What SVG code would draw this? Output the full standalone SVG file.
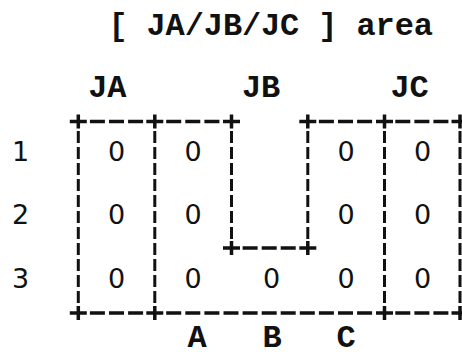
<svg xmlns="http://www.w3.org/2000/svg" width="462" height="356" viewBox="0 0 462 356">
<style>
.tw{font-family:"Liberation Mono","Courier New",monospace;font-size:32px;font-weight:bold;fill:#111;text-anchor:middle}
.sn{font-family:"DejaVu Sans","Liberation Sans",sans-serif;font-size:27px;fill:#111;text-anchor:middle}
.h{stroke:#111;stroke-width:3.5;fill:none}
.v{stroke:#111;stroke-width:3;fill:none;stroke-dasharray:12 4}
</style>
<rect width="462" height="356" fill="#fff"/>
<g id="title">
<text class="tw" x="118 137.1 156.1 175.2 194.3 213.4 232.5 251.6 270.7 289.7 308.8 327.9 347 366.1 385.2 404.3 423.4" y="35">[ JA/JB/JC ] area</text>
</g>
<g id="col-labels">
<text id="lbl-JA" class="tw" x="97.8 116.8" y="97">JA</text>
<text id="lbl-JB" class="tw" x="251.5 270.5" y="97">JB</text>
<text id="lbl-JC" class="tw" x="400 419" y="97">JC</text>
<text id="lbl-A" class="tw" x="197" y="347">A</text>
<text id="lbl-B" class="tw" x="272" y="347">B</text>
<text id="lbl-C" class="tw" x="346" y="347">C</text>
</g>
<g id="row-labels">
<text class="sn" x="20.5" y="161">1</text>
<text class="sn" x="20.5" y="223.5">2</text>
<text class="sn" x="20.5" y="288">3</text>
</g>
<g id="connectors">
<path class="h" d="M89.9 121.5h15M109 121.5h15M128.1 121.5h15M166.2 121.5h15M185.3 121.5h15M204.4 121.5h15M318.9 121.5h15M338 121.5h15M357.1 121.5h15M395.3 121.5h15M414.4 121.5h15M433.4 121.5h15"/>
<path class="h" d="M242.6 248h15M261.7 248h15M280.7 248h15"/>
<path class="h" d="M89.9 313h15M109 313h15M128.1 313h15M166.2 313h15M185.3 313h15M204.4 313h15M223.5 313h15M242.6 313h15M261.7 313h15M280.7 313h15M299.8 313h15M318.9 313h15M338 313h15M357.1 313h15M395.3 313h15M414.4 313h15M433.4 313h15"/>
<path class="v" d="M78.3 131V306M154.8 131V306M231.5 131V241M307.8 131V241M384.5 131V306M460 131V306"/>
<path class="h" d="M69.8 121.5h17M78.3 114.5v14M146.3 121.5h17M154.8 114.5v14M223 121.5h17M231.5 114.5v14M299.3 121.5h17M307.8 114.5v14M376 121.5h17M384.5 114.5v14M451.5 121.5h17M460 114.5v14"/>
<path class="h" d="M223 248h17M231.5 241v14M299.3 248h17M307.8 241v14"/>
<path class="h" d="M69.8 313h17M78.3 306v14M146.3 313h17M154.8 306v14M376 313h17M384.5 306v14M451.5 313h17M460 306v14"/>
</g>
<g id="cells">
<text class="sn" x="116.5" y="161">0</text>
<text class="sn" x="193" y="161">0</text>
<text class="sn" x="346" y="161">0</text>
<text class="sn" x="422.5" y="161">0</text>
<text class="sn" x="116.5" y="223.5">0</text>
<text class="sn" x="193" y="223.5">0</text>
<text class="sn" x="346" y="223.5">0</text>
<text class="sn" x="422.5" y="223.5">0</text>
<text class="sn" x="116.5" y="288">0</text>
<text class="sn" x="193" y="288">0</text>
<text class="sn" x="271.5" y="288">0</text>
<text class="sn" x="346" y="288">0</text>
<text class="sn" x="422.5" y="288">0</text>
</g>
</svg>
